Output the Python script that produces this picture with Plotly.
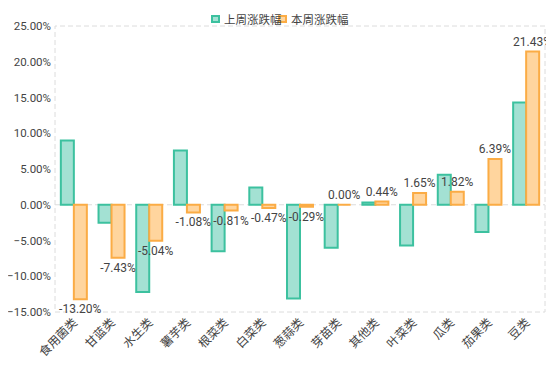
import plotly.graph_objects as go

categories = ["食用菌类", "甘蓝类", "水生类", "薯芋类", "根菜类", "白菜类", "葱蒜类",
              "芽苗类", "其他类", "叶菜类", "瓜类", "茄果类", "豆类"]
last_week = [9.0, -2.5, -12.2, 7.6, -6.5, 2.4, -13.1, -6.0, 0.3, -5.7, 4.2, -3.8, 14.3]
this_week = [-13.20, -7.43, -5.04, -1.08, -0.81, -0.47, -0.29, 0.00, 0.44, 1.65, 1.82, 6.39, 21.43]
series_names = ["上周涨跌幅", "本周涨跌幅"]

FONT = "Microsoft YaHei, Noto Sans CJK SC, sans-serif"
NUM_FONT = "Roboto, Microsoft YaHei, sans-serif"
GREEN_FILL, GREEN_LINE = "#a3e1d3", "#3cc19f"
ORANGE_FILL, ORANGE_LINE = "#ffd59e", "#fbac45"

# figure is placed at an 8px body margin in the page
W, H = 546, 359
ML, MR, MT, MB = 47, 9, 18, 55
PW, PH = W - ML - MR, H - MT - MB


def px(fx):
    return (fx - ML) / PW


def py(fy):
    return 1 - (fy - MT) / PH


fig = go.Figure()
fig.add_trace(go.Bar(
    x=categories, y=last_week, name=series_names[0],
    marker=dict(color=GREEN_FILL, line=dict(color=GREEN_LINE, width=2)),
    hoverinfo="skip",
))
fig.add_trace(go.Bar(
    x=categories, y=this_week, name=series_names[1],
    marker=dict(color=ORANGE_FILL, line=dict(color=ORANGE_LINE, width=2)),
    text=[f"{v:.2f}%" for v in this_week], textposition="outside",
    constraintext="none",
    textfont=dict(size=12, color="#444444", family=NUM_FONT),
    cliponaxis=False, hoverinfo="skip",
))

# compact legend drawn as shapes + annotations
legend_items = [(series_names[0], GREEN_FILL, GREEN_LINE, 203),
                (series_names[1], ORANGE_FILL, ORANGE_LINE, 270)]
shapes = [
    dict(type="rect", xref="paper", yref="paper", x0=0, x1=1, y0=0, y1=1,
         line=dict(color="#dcdcdc", width=1, dash="5px,3px"), layer="below"),
    dict(type="line", xref="paper", yref="y", x0=0, x1=1, y0=0, y1=0,
         line=dict(color="#dcdcdc", width=1, dash="5px,3px"), layer="below"),
]
annotations = []
for name, fill, line, fx in legend_items:
    shapes.append(dict(type="rect", xref="paper", yref="paper",
                       x0=px(fx + 1), x1=px(fx + 8), y0=py(14), y1=py(8),
                       fillcolor=fill, line=dict(color=line, width=2)))
    annotations.append(dict(text=name, xref="paper", yref="paper",
                            x=px(fx + 11), y=py(11), xanchor="left", yanchor="middle",
                            showarrow=False,
                            font=dict(size=11.5, color="#444444", family=FONT)))

fig.update_layout(
    width=W, height=H,
    margin=dict(l=ML, r=MR, t=MT, b=MB, autoexpand=False),
    paper_bgcolor="white", plot_bgcolor="white",
    barmode="group", bargap=0.31, bargroupgap=0,
    font=dict(family=FONT, size=12, color="#444444"),
    showlegend=False,
    xaxis=dict(tickangle=-45, showgrid=False, showline=False, zeroline=False,
               tickfont=dict(size=12, color="#444444", family=FONT), automargin=False),
    yaxis=dict(range=[-15, 25], dtick=5, tickformat=".2f", ticksuffix="%",
               showgrid=False, zeroline=False, showline=False, automargin=False,
               tickfont=dict(size=11.5, color="#444444", family=NUM_FONT),
               ticklabelstandoff=3),
    shapes=shapes,
    annotations=annotations,
)

fig.write_html("out.html")
